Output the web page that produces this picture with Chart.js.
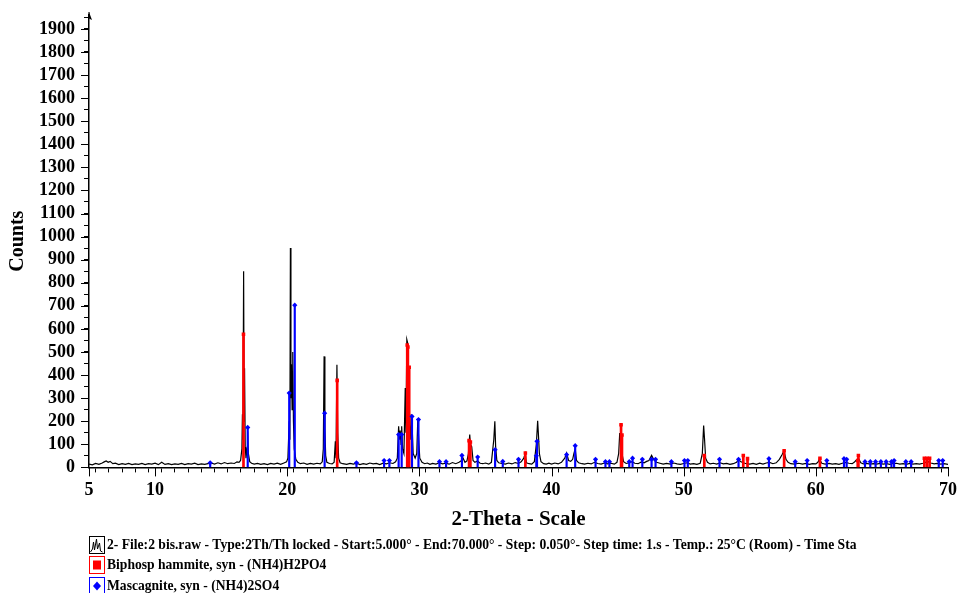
<!DOCTYPE html>
<html>
<head>
<meta charset="utf-8">
<script src="https://cdn.jsdelivr.net/npm/chart.js@4.4.1/dist/chart.umd.min.js"></script>
<style>
  html, body { margin: 0; padding: 0; background: #fff; }
  #wrap { width: 957px; height: 593px; }
</style>
</head>
<body>
<div id="wrap"><canvas id="chart"></canvas></div>
<script>
// measured pattern (2-theta, counts)
const patternTheta = [
  5.00, 5.25, 5.50, 5.75, 6.00, 6.15, 6.30, 6.45, 6.60, 6.80, 7.00, 7.25, 7.50, 7.75, 8.00, 8.25, 8.50, 8.75,
  9.00, 9.25, 9.50, 9.75, 10.00, 10.25, 10.50, 10.75, 11.00, 11.25, 11.50, 11.75, 12.00, 12.25, 12.50, 12.75,
  13.00, 13.25, 13.50, 13.75, 14.00, 14.25, 14.50, 14.75, 15.00, 15.25, 15.50, 15.75, 16.00, 16.20, 16.35,
  16.47, 16.57, 16.61, 16.65, 16.70, 16.74, 16.77, 16.82, 16.88, 16.96, 17.00, 17.06, 17.16, 17.30, 17.50,
  17.75, 18.00, 18.25, 18.50, 18.75, 19.00, 19.25, 19.50, 19.75, 19.95, 20.05, 20.15, 20.20, 20.24, 20.28,
  20.32, 20.37, 20.42, 20.47, 20.53, 20.65, 20.80, 21.00, 21.25, 21.50, 21.75, 22.00, 22.25, 22.50, 22.65,
  22.73, 22.79, 22.85, 22.91, 23.00, 23.20, 23.40, 23.55, 23.64, 23.69, 23.76, 23.82, 23.89, 24.00, 24.20,
  24.50, 24.75, 25.00, 25.25, 25.50, 25.75, 26.00, 26.25, 26.50, 26.75, 27.00, 27.25, 27.50, 27.75, 28.00,
  28.20, 28.33, 28.43, 28.49, 28.55, 28.61, 28.66, 28.73, 28.83, 28.93, 28.98, 29.05, 29.11, 29.17, 29.23,
  29.31, 29.38, 29.45, 29.53, 29.68, 29.80, 29.88, 29.95, 30.03, 30.20, 30.40, 30.60, 30.80, 31.00, 31.25,
  31.50, 31.75, 32.00, 32.25, 32.50, 32.75, 33.00, 33.20, 33.31, 33.45, 33.60, 33.71, 33.81, 33.86, 33.96,
  34.06, 34.20, 34.40, 34.60, 34.80, 35.00, 35.25, 35.45, 35.63, 35.71, 35.77, 35.86, 36.00, 36.25, 36.50,
  36.75, 37.00, 37.25, 37.50, 37.70, 37.90, 38.00, 38.10, 38.30, 38.50, 38.70, 38.85, 38.95, 39.00, 39.08,
  39.20, 39.40, 39.60, 39.80, 40.00, 40.25, 40.50, 40.75, 41.00, 41.14, 41.29, 41.45, 41.60, 41.69, 41.79,
  41.89, 42.05, 42.30, 42.50, 42.75, 43.00, 43.25, 43.50, 43.75, 44.00, 44.25, 44.50, 44.75, 44.95, 45.08,
  45.16, 45.23, 45.33, 45.45, 45.65, 45.90, 46.10, 46.30, 46.55, 46.80, 47.00, 47.20, 47.37, 47.57, 47.77,
  47.95, 48.20, 48.45, 48.70, 49.00, 49.25, 49.50, 49.75, 50.00, 50.25, 50.50, 50.75, 51.00, 51.25, 51.41,
  51.51, 51.58, 51.66, 51.80, 52.00, 52.25, 52.50, 52.75, 53.00, 53.25, 53.50, 53.75, 54.00, 54.15, 54.30,
  54.50, 54.75, 55.00, 55.25, 55.50, 55.75, 56.00, 56.25, 56.50, 56.75, 57.00, 57.24, 57.44, 57.59, 57.74,
  57.90, 58.10, 58.40, 58.70, 59.00, 59.25, 59.50, 59.75, 60.00, 60.15, 60.28, 60.45, 60.70, 61.00, 61.25,
  61.50, 61.75, 62.00, 62.25, 62.50, 62.75, 62.90, 63.03, 63.22, 63.40, 63.60, 63.85, 64.10, 64.35, 64.60,
  64.85, 65.10, 65.35, 65.60, 65.85, 66.10, 66.35, 66.60, 66.85, 67.10, 67.35, 67.60, 67.85, 68.10, 68.30,
  68.50, 68.70, 68.95, 69.20, 69.45, 69.70, 70.00
];
const patternCounts = [
  14, 11, 17, 13, 19, 24, 28, 22, 26, 16, 18, 12, 16, 13, 17, 12, 15, 13,
  17, 12, 16, 14, 18, 12, 22, 13, 16, 12, 15, 13, 17, 12, 16, 14,
  18, 12, 15, 13, 16, 19, 14, 20, 15, 21, 16, 19, 17, 24, 22,
  30, 80, 230, 120, 850, 200, 430, 90, 40, 80, 155, 60, 25, 18, 14,
  17, 13, 16, 12, 17, 14, 18, 13, 19, 24, 40, 200, 120, 951, 300,
  447, 250, 500, 200, 80, 35, 22, 16, 19, 13, 17, 14, 18, 15, 24,
  80, 481, 170, 50, 22, 17, 15, 22, 113, 40, 445, 150, 40, 20, 16,
  13, 17, 14, 18, 12, 16, 13, 19, 15, 17, 12, 18, 15, 20, 17,
  24, 40, 178, 120, 160, 100, 178, 80, 60, 344, 150, 554, 540, 450, 200,
  120, 230, 180, 60, 40, 60, 207, 120, 40, 22, 16, 19, 13, 17, 14,
  20, 15, 18, 14, 21, 16, 22, 30, 40, 22, 28, 60, 142, 100, 90,
  30, 22, 28, 18, 16, 19, 14, 22, 120, 200, 90, 30, 20, 17, 14,
  19, 15, 21, 17, 24, 40, 60, 20, 16, 14, 25, 100, 202, 150, 60,
  25, 16, 14, 18, 14, 19, 15, 22, 40, 62, 30, 26, 35, 60, 80,
  30, 20, 16, 14, 18, 15, 22, 17, 14, 19, 15, 18, 14, 22, 60,
  149, 120, 60, 25, 17, 20, 25, 18, 16, 24, 20, 26, 30, 52, 30,
  22, 18, 14, 17, 14, 19, 15, 13, 17, 20, 14, 16, 13, 18, 60,
  181, 120, 40, 22, 15, 18, 14, 20, 15, 17, 13, 16, 22, 35, 25,
  20, 16, 14, 17, 13, 18, 14, 19, 22, 16, 20, 35, 55, 72, 35,
  22, 16, 14, 18, 14, 17, 13, 16, 15, 22, 35, 18, 14, 17, 14,
  16, 13, 18, 22, 18, 16, 22, 30, 40, 20, 15, 17, 14, 16, 14,
  17, 14, 16, 13, 17, 18, 14, 16, 13, 17, 14, 16, 14, 18, 22,
  25, 19, 15, 17, 14, 16, 13
];

// Biphosphammite, syn - (NH4)H2PO4 reference lines
const hammiteTheta = [16.69, 23.78, 29.08, 29.13, 29.23, 33.76, 33.86, 38.02, 45.26, 45.33, 51.56, 54.51, 54.83, 57.60, 60.31, 63.17, 63.22, 68.21, 68.41, 68.61];
const hammiteCounts = [577, 377, 530, 522, 434, 116, 110, 62, 185, 140, 52, 52, 38, 72, 40, 30, 52, 40, 40, 40];

// Mascagnite, syn - (NH4)2SO4 reference lines
const mascagniteTheta = [
  14.17, 17.01, 20.15, 20.57, 22.83, 25.24, 27.33, 27.73, 28.43, 28.66, 29.44, 29.93, 31.52, 32.02, 33.22,
  34.41, 35.73, 36.31, 37.50, 38.85, 38.90, 41.14, 41.79, 43.33, 44.08, 44.38, 45.88, 46.13, 46.87, 47.57,
  47.87, 49.07, 50.06, 50.31, 52.71, 54.15, 56.45, 58.44, 59.34, 60.83, 62.13, 62.33, 63.72, 64.12, 64.52,
  64.92, 65.32, 65.72, 65.92, 66.81, 67.21, 69.30, 69.60
];
const mascagniteCounts = [
  20, 173, 322, 703, 235, 20, 30, 30, 142, 142, 221, 207, 25, 25, 52,
  45, 77, 26, 35, 50, 113, 55, 94, 35, 25, 25, 25, 40, 35, 35,
  35, 25, 30, 30, 35, 35, 38, 25, 30, 30, 38, 35, 25, 25, 25,
  25, 25, 25, 30, 25, 25, 30, 30
];

const xLabelTicks = [5, 10, 20, 30, 40, 50, 60, 70];
const legendLabels = [
  "2- File:2 bis.raw - Type:2Th/Th locked - Start:5.000° - End:70.000° - Step: 0.050°- Step time: 1.s - Temp.: 25°C (Room) - Time Sta",
  "Biphosp hammite, syn - (NH4)H2PO4",
  "Mascagnite, syn - (NH4)2SO4"
];

const RED = "#ff0000";
const BLUE = "#0000ff";
const SERIF = "'Liberation Serif', 'Times New Roman', serif";

function toPoints(xs, ys) {
  return xs.map((x, i) => ({ x: x, y: ys[i] }));
}

// longer ticks at labelled values, plus the small arrow on top of the y axis
const axisMarks = {
  id: "axisMarks",
  afterDraw(chart) {
    const { ctx, chartArea } = chart;
    const xs = chart.scales.x;
    const ys = chart.scales.y;
    ctx.save();
    ctx.strokeStyle = "#000";
    ctx.lineWidth = 1;
    ctx.beginPath();
    xLabelTicks.forEach(v => {
      const px = Math.round(xs.getPixelForValue(v)) + 0.5;
      ctx.moveTo(px, chartArea.bottom);
      ctx.lineTo(px, chartArea.bottom + 9);
    });
    ys.ticks.forEach(t => {
      if (t.value % 100 !== 0) return;
      const py = Math.round(ys.getPixelForValue(t.value)) + 0.5;
      ctx.moveTo(chartArea.left, py);
      ctx.lineTo(chartArea.left - 8, py);
    });
    ctx.stroke();

    const ax = chartArea.left;
    const ay = chartArea.top;
    ctx.fillStyle = "#000";
    ctx.beginPath();
    ctx.moveTo(ax, ay - 3);
    ctx.lineTo(ax + 3, ay + 5);
    ctx.lineTo(ax - 1, ay + 3);
    ctx.closePath();
    ctx.fill();
    ctx.beginPath();
    ctx.moveTo(ax, ay);
    ctx.lineTo(ax, ay - 3);
    ctx.stroke();
    ctx.restore();
  }
};

// the three legend rows under the axis title
const legendRows = {
  id: "legendRows",
  afterDraw(chart) {
    const ctx = chart.ctx;
    const h = chart.height;
    const rowY = [h - 48, h - 28, h - 7];
    const boxX = 89.5;
    ctx.save();
    ctx.lineWidth = 1;

    // pattern icon
    ctx.strokeStyle = "#000";
    ctx.strokeRect(boxX, rowY[0] - 8.5, 15, 17);
    ctx.beginPath();
    const spikes = [[1, 7], [3, 4], [4, -3], [5, 5], [7, -6], [8, 4], [10, -2], [11, 6], [13, 7]];
    spikes.forEach((p, i) => {
      const px = boxX + p[0], py = rowY[0] + p[1];
      if (i === 0) ctx.moveTo(px, py); else ctx.lineTo(px, py);
    });
    ctx.stroke();

    // red icon
    ctx.strokeStyle = RED;
    ctx.strokeRect(boxX, rowY[1] - 8.5, 15, 17);
    ctx.fillStyle = RED;
    ctx.fillRect(boxX + 3.5, rowY[1] - 4.5, 8, 9);

    // blue icon
    ctx.strokeStyle = BLUE;
    ctx.strokeRect(boxX, rowY[2] - 8.5, 15, 17);
    ctx.fillStyle = BLUE;
    ctx.beginPath();
    const cx = boxX + 7.5, cy = rowY[2];
    ctx.moveTo(cx, cy - 4.5);
    ctx.lineTo(cx + 4, cy);
    ctx.lineTo(cx, cy + 4.5);
    ctx.lineTo(cx - 4, cy);
    ctx.closePath();
    ctx.fill();

    ctx.fillStyle = "#000";
    ctx.font = "bold 13.6px " + SERIF;
    ctx.textBaseline = "middle";
    ctx.textAlign = "left";
    legendLabels.forEach((text, i) => ctx.fillText(text, 107, rowY[i]));
    ctx.restore();
  }
};

const ctx = document.getElementById("chart");

const chart = new Chart(ctx, {
  type: "scatter",
  data: {
    datasets: [
      {
        type: "scatter",
        label: "Biphosp hammite marks",
        data: toPoints(hammiteTheta, hammiteCounts),
        pointStyle: "rect",
        pointRadius: 2.5,
        backgroundColor: RED,
        borderColor: RED,
        borderWidth: 0,
        order: 0
      },
      {
        type: "scatter",
        label: "Mascagnite marks",
        data: toPoints(mascagniteTheta, mascagniteCounts),
        pointStyle: "rectRot",
        pointRadius: 2.6,
        backgroundColor: BLUE,
        borderColor: BLUE,
        borderWidth: 0,
        order: 0
      },
      {
        type: "bar",
        label: "Biphosp hammite",
        data: toPoints(hammiteTheta, hammiteCounts),
        backgroundColor: RED,
        barThickness: 2,
        grouped: false,
        order: 1
      },
      {
        type: "bar",
        label: "Mascagnite",
        data: toPoints(mascagniteTheta, mascagniteCounts),
        backgroundColor: BLUE,
        barThickness: 1.5,
        grouped: false,
        order: 1
      },
      {
        type: "line",
        label: "2 bis.raw",
        data: toPoints(patternTheta, patternCounts),
        borderColor: "#000",
        borderWidth: 1.2,
        pointRadius: 0,
        tension: 0,
        fill: false,
        order: 2
      }
    ]
  },
  options: {
    responsive: true,
    maintainAspectRatio: false,
    animation: false,
    layout: { padding: { left: 4, right: 0, top: 15, bottom: 63 } },
    plugins: {
      legend: { display: false },
      tooltip: { enabled: false }
    },
    scales: {
      x: {
        type: "linear",
        min: 5,
        max: 70,
        offset: false,
        // let the "70" label run into the right margin, as in the original
        afterFit: scale => { scale.paddingRight = 9; },
        ticks: {
          stepSize: 1,
          autoSkip: false,
          maxRotation: 0,
          padding: 7,
          color: "#000",
          font: { family: SERIF, size: 18, weight: "bold" },
          callback: v => (xLabelTicks.includes(v) ? String(v) : "")
        },
        grid: { drawOnChartArea: false, tickLength: 5, color: "#000", tickColor: "#000" },
        border: { color: "#000", width: 1.5 },
        title: {
          display: true,
          text: "2-Theta - Scale",
          color: "#000",
          font: { family: SERIF, size: 21, weight: "bold", lineHeight: 1 },
          padding: { top: 1, bottom: 0 }
        }
      },
      y: {
        type: "linear",
        min: 0,
        max: 1960,
        afterFit: scale => { scale.paddingTop = 0; scale.paddingBottom = 0; },
        ticks: {
          stepSize: 50,
          includeBounds: false,
          autoSkip: false,
          padding: 9,
          color: "#000",
          font: { family: SERIF, size: 18, weight: "bold" },
          callback: v => (v % 100 === 0 ? String(v) : "")
        },
        grid: { drawOnChartArea: false, tickLength: 5, color: "#000", tickColor: "#000" },
        border: { color: "#000", width: 1.5 },
        title: {
          display: true,
          text: "Counts",
          color: "#000",
          font: { family: SERIF, size: 20, weight: "bold" },
          padding: { top: 2, bottom: 0 }
        }
      }
    }
  },
  plugins: [axisMarks, legendRows]
});
</script>
</body>
</html>
